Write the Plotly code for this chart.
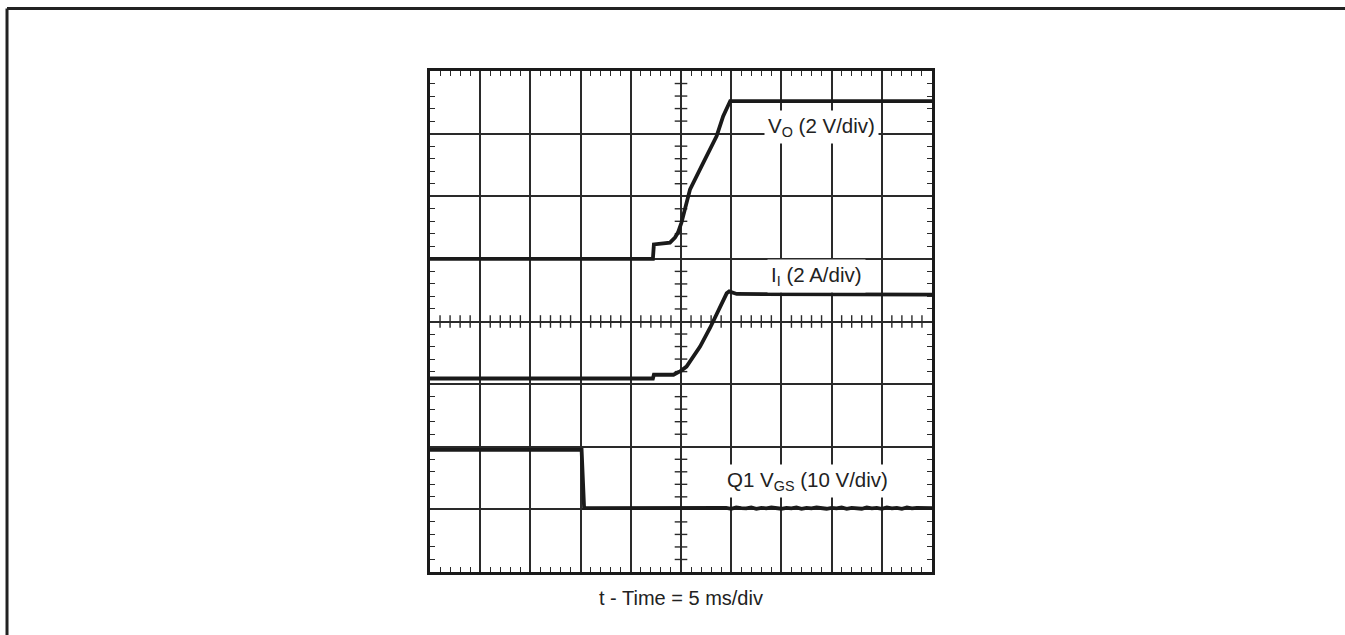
import numpy as np
import plotly.graph_objects as go

# Scope screen: 10 horizontal divisions x 8 vertical divisions
X_DIVS = 10
Y_DIVS = 8

# V_O trace (divisions)
vo_t = [0.0, 4.44, 4.46, 4.64, 4.78, 4.88, 4.94, 5.01, 5.18, 5.44, 5.71, 5.84, 5.98, 10.0]
vo_v = [5.00, 5.00, 5.23, 5.24, 5.26, 5.34, 5.42, 5.58, 6.11, 6.53, 6.96, 7.28, 7.52, 7.52]

# I_I trace (divisions)
ii_t = [0.0, 4.44, 4.46, 4.85, 4.94, 4.98, 5.11, 5.18, 5.38, 5.58, 5.78, 5.91, 5.96, 6.11, 10.0]
ii_v = [3.09, 3.09, 3.15, 3.15, 3.19, 3.20, 3.28, 3.36, 3.60, 3.90, 4.22, 4.45, 4.48, 4.44, 4.43]

# Q1 V_GS trace (divisions), with the ripple on the low level
vgs_t = [0.0, 3.02, 3.07, 5.6, 5.7, 5.8, 5.9, 6.0, 6.1, 6.2, 6.3, 6.4, 6.5, 6.6, 6.7,
         6.8, 6.9, 7.0, 7.1, 7.2, 7.3, 7.4, 7.5, 7.6, 7.7, 7.8, 7.9, 8.0, 8.1, 8.2,
         8.3, 8.4, 8.5, 8.6, 8.7, 8.8, 8.9, 9.0, 9.1, 9.2, 9.3, 9.4, 9.5, 9.6, 9.7,
         9.8, 9.9, 10.0]
vgs_v = [1.95, 1.95, 1.02, 1.02, 1.03, 1.015, 1.025, 1.01, 1.03, 1.02, 1.015, 1.03, 1.01,
         1.025, 1.015, 1.03, 1.02, 1.01, 1.025, 1.015, 1.03, 1.01, 1.025, 1.015, 1.03,
         1.02, 1.01, 1.025, 1.015, 1.03, 1.01, 1.025, 1.02, 1.01, 1.03, 1.015, 1.025,
         1.01, 1.03, 1.015, 1.025, 1.01, 1.03, 1.015, 1.025, 1.02, 1.01, 1.02]

labels = ["V<sub>O</sub> (2 V/div)", "I<sub>I</sub> (2 A/div)", "Q1 V<sub>GS</sub> (10 V/div)"]
label_x = [7.79, 7.69, 7.51]
label_y = [7.11, 4.73, 1.45]
x_title = "t - Time = 5 ms/div"

INK = "#1a1a1a"
GRID = "#2a2a2a"
FONT = "Liberation Sans, Arial, Helvetica, sans-serif"

fig = go.Figure()

# Graduation marks on the centre cross-hair lines
cx = X_DIVS / 2
cy = Y_DIVS / 2
hx = [v for v in np.round(np.arange(0, X_DIVS + 1e-9, 0.2), 2) if abs(v - round(v)) > 1e-6]
vy = [v for v in np.round(np.arange(0, Y_DIVS + 1e-9, 0.2), 2) if abs(v - round(v)) > 1e-6]
fig.add_trace(go.Scatter(x=hx, y=[cy] * len(hx), mode="markers", hoverinfo="skip",
                         marker=dict(symbol="line-ns", size=9,
                                     line=dict(width=1.4, color=GRID))))
fig.add_trace(go.Scatter(x=[cx] * len(vy), y=vy, mode="markers", hoverinfo="skip",
                         marker=dict(symbol="line-ew", size=9,
                                     line=dict(width=1.4, color=GRID))))

for t, v in [(vo_t, vo_v), (ii_t, ii_v), (vgs_t, vgs_v)]:
    fig.add_trace(go.Scatter(x=t, y=v, mode="lines", hoverinfo="skip",
                             line=dict(color=INK, width=3.8)))

for txt, x, y in zip(labels, label_x, label_y):
    fig.add_annotation(x=x, y=y, xref="x", yref="y", text=txt, showarrow=False,
                       font=dict(family=FONT, size=20.5, color="#222222"),
                       bgcolor="white", borderpad=3, xanchor="center", yanchor="middle")

fig.add_annotation(x=0.5, y=-0.052, xref="paper", yref="paper", text=x_title,
                   showarrow=False, font=dict(family=FONT, size=20, color="#222222"),
                   xanchor="center", yanchor="middle")

# Outer page frame (only its top and left edges fall inside the view)
fig.add_shape(type="line", xref="paper", yref="paper", x0=-0.8426, x1=-0.8426,
              y0=-0.3, y1=1.1248, line=dict(color="#222222", width=3))
fig.add_shape(type="line", xref="paper", yref="paper", x0=-0.8426, x1=1.83,
              y0=1.1248, y1=1.1248, line=dict(color="#222222", width=3))

axis_common = dict(showline=True, mirror="ticks", linewidth=3, linecolor=INK,
                   showgrid=True, gridcolor=GRID, gridwidth=1.5, zeroline=False,
                   showticklabels=False, ticks="", dtick=1, tick0=0, fixedrange=True)
fig.update_xaxes(range=[0, X_DIVS],
                 minor=dict(ticks="inside", dtick=0.2, tick0=0, ticklen=5, tickwidth=1.3,
                            tickcolor=GRID, showgrid=False),
                 **axis_common)
fig.update_yaxes(range=[0, Y_DIVS],
                 minor=dict(ticks="inside", dtick=0.2, tick0=0, ticklen=5, tickwidth=1.3,
                            tickcolor=GRID, showgrid=False),
                 **axis_common)

fig.update_layout(width=1345, height=635, showlegend=False,
                  paper_bgcolor="white", plot_bgcolor="white",
                  margin=dict(l=430, r=413, t=71, b=63, autoexpand=False))

fig.write_html("out.html", config={"displayModeBar": False})
